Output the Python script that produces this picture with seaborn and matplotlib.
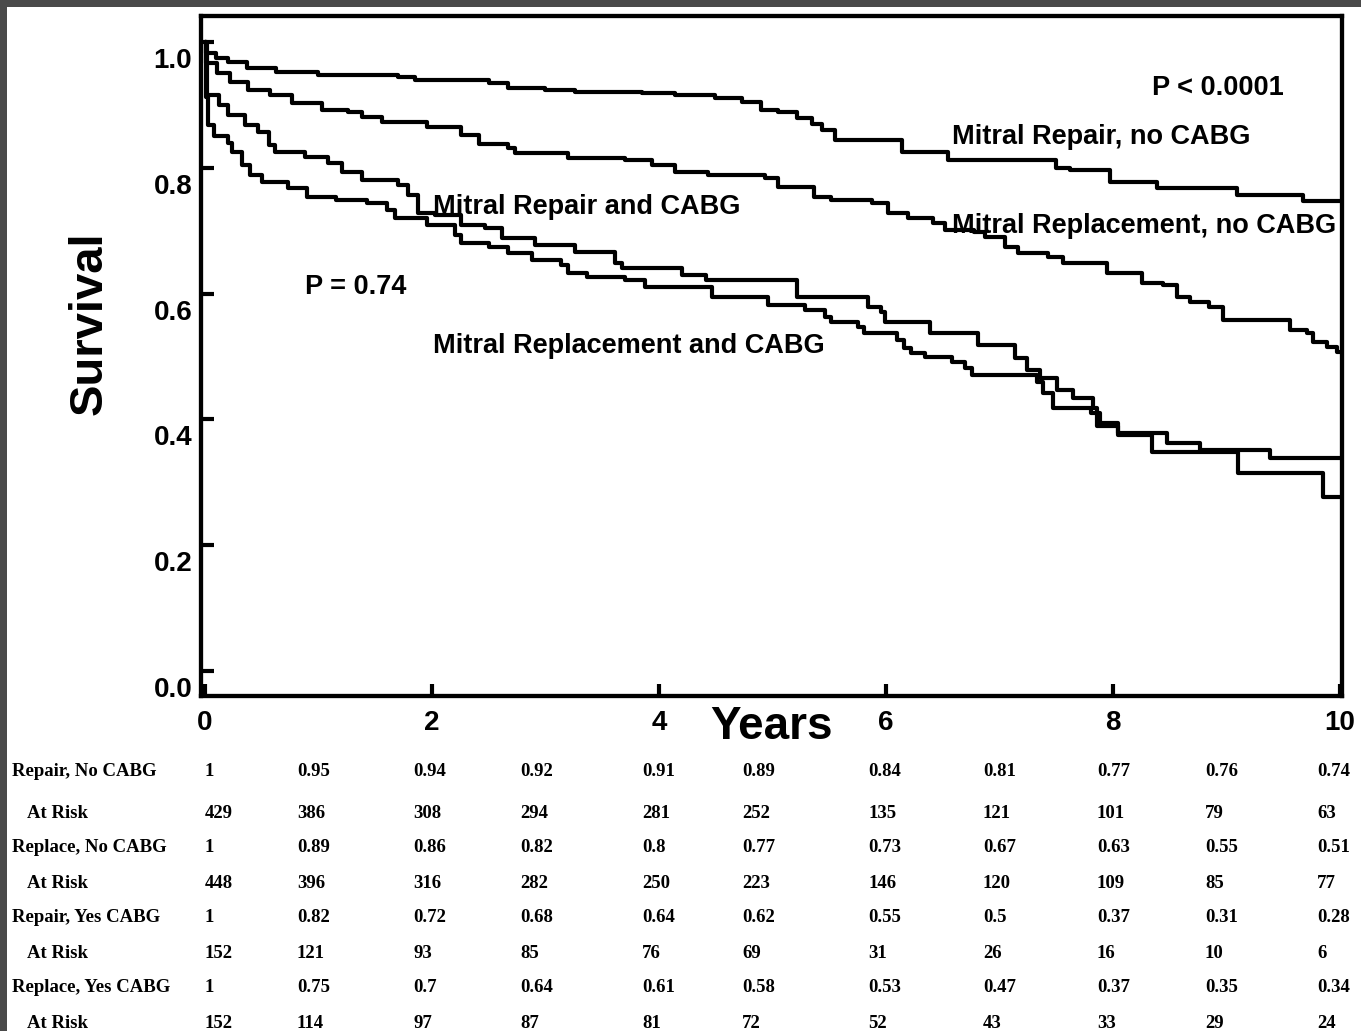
import matplotlib
matplotlib.use("Agg")
import matplotlib.pyplot as plt
import pandas as pd
import seaborn as sns
from matplotlib.patches import Rectangle
from matplotlib.transforms import ScaledTranslation

# ---- Kaplan-Meier step curves: (years, survival) ----
repair_no_cabg_years = [0, 0.01, 0.1, 0.2, 0.37, 0.63, 1.0, 1.7, 1.85, 2.5, 2.67, 3.0, 3.26, 3.85,
                        4.14, 4.49, 4.73, 4.9, 5.05, 5.22, 5.35, 5.44, 5.55, 6.14, 6.55, 7.5, 7.62,
                        7.97, 8.39, 9.09, 9.67, 10.0]
repair_no_cabg_surv = [1.0, 0.982, 0.975, 0.968, 0.959, 0.952, 0.948, 0.944, 0.94, 0.935, 0.927, 0.924,
                       0.92, 0.919, 0.916, 0.911, 0.905, 0.892, 0.888, 0.879, 0.87, 0.86, 0.844, 0.825,
                       0.812, 0.80, 0.797, 0.777, 0.768, 0.757, 0.747, 0.747]

replace_no_cabg_years = [0, 0.01, 0.11, 0.22, 0.38, 0.57, 0.77, 1.03, 1.26, 1.38, 1.56, 1.96, 2.26,
                         2.41, 2.67, 2.73, 3.2, 3.7, 3.94, 4.14, 4.43, 4.93, 5.05, 5.37, 5.52, 5.88,
                         6.02, 6.19, 6.41, 6.52, 6.78, 6.87, 7.05, 7.16, 7.43, 7.56, 7.95, 8.26, 8.44,
                         8.56, 8.68, 8.85, 8.97, 9.56, 9.71, 9.76, 9.89, 9.97, 10.0]
replace_no_cabg_surv = [1.0, 0.967, 0.951, 0.936, 0.924, 0.916, 0.903, 0.892, 0.888, 0.881, 0.873,
                        0.865, 0.852, 0.838, 0.831, 0.823, 0.816, 0.812, 0.804, 0.793, 0.789, 0.784,
                        0.77, 0.754, 0.749, 0.744, 0.728, 0.72, 0.712, 0.701, 0.698, 0.69, 0.674,
                        0.665, 0.658, 0.649, 0.633, 0.617, 0.614, 0.595, 0.587, 0.579, 0.558, 0.542,
                        0.537, 0.523, 0.515, 0.507, 0.507]

repair_cabg_years = [0, 0.02, 0.12, 0.2, 0.35, 0.47, 0.56, 0.62, 0.88, 1.08, 1.21, 1.38, 1.7, 1.79,
                     1.88, 2.03, 2.26, 2.47, 2.62, 2.91, 3.26, 3.61, 3.67, 4.2, 4.41, 5.22, 5.84,
                     5.96, 5.99, 6.39, 6.81, 7.14, 7.24, 7.36, 7.51, 7.65, 7.82, 7.86, 8.04, 8.34,
                     9.1, 9.85, 10.0]
repair_cabg_surv = [1.0, 0.916, 0.9, 0.884, 0.868, 0.857, 0.836, 0.825, 0.817, 0.808, 0.793, 0.781,
                    0.773, 0.757, 0.728, 0.725, 0.709, 0.704, 0.688, 0.677, 0.666, 0.649, 0.641,
                    0.63, 0.622, 0.595, 0.579, 0.571, 0.555, 0.537, 0.518, 0.498, 0.478, 0.466,
                    0.447, 0.434, 0.418, 0.39, 0.375, 0.348, 0.315, 0.277, 0.277]

replace_cabg_years = [0, 0.005, 0.03, 0.08, 0.2, 0.24, 0.33, 0.4, 0.5, 0.73, 0.9, 1.15, 1.43, 1.6,
                      1.67, 1.96, 2.2, 2.26, 2.5, 2.67, 2.88, 3.14, 3.2, 3.37, 3.7, 3.88, 4.47,
                      4.96, 5.29, 5.46, 5.52, 5.75, 5.81, 6.1, 6.16, 6.22, 6.34, 6.58, 6.7, 6.76,
                      7.33, 7.38, 7.47, 7.81, 7.89, 8.04, 8.48, 8.77, 9.38, 10.0]
replace_cabg_surv = [1.0, 0.913, 0.868, 0.85, 0.839, 0.825, 0.804, 0.789, 0.777, 0.768, 0.754,
                     0.749, 0.744, 0.733, 0.72, 0.709, 0.693, 0.68, 0.674, 0.665, 0.653, 0.645,
                     0.633, 0.626, 0.622, 0.611, 0.595, 0.582, 0.574, 0.563, 0.555, 0.547, 0.537,
                     0.526, 0.513, 0.506, 0.499, 0.491, 0.482, 0.471, 0.46, 0.442, 0.418, 0.41,
                     0.395, 0.378, 0.362, 0.351, 0.339, 0.339]

# ---- axis ticks ----
x_ticks = [0, 2, 4, 6, 8, 10]
x_tick_labels = ["0", "2", "4", "6", "8", "10"]
y_ticks = [0.0, 0.2, 0.4, 0.6, 0.8, 1.0]
y_tick_labels = ["0.0", "0.2", "0.4", "0.6", "0.8", "1.0"]

# ---- life table under the chart ----
table_row_labels = ["Repair, No CABG", "At Risk", "Replace, No CABG", "At Risk",
                    "Repair, Yes CABG", "At Risk", "Replace, Yes CABG", "At Risk"]
repair_no_cabg_table = [1, 0.95, 0.94, 0.92, 0.91, 0.89, 0.84, 0.81, 0.77, 0.76, 0.74]
repair_no_cabg_risk = [429, 386, 308, 294, 281, 252, 135, 121, 101, 79, 63]
replace_no_cabg_table = [1, 0.89, 0.86, 0.82, 0.8, 0.77, 0.73, 0.67, 0.63, 0.55, 0.51]
replace_no_cabg_risk = [448, 396, 316, 282, 250, 223, 146, 120, 109, 85, 77]
repair_cabg_table = [1, 0.82, 0.72, 0.68, 0.64, 0.62, 0.55, 0.5, 0.37, 0.31, 0.28]
repair_cabg_risk = [152, 121, 93, 85, 76, 69, 31, 26, 16, 10, 6]
replace_cabg_table = [1, 0.75, 0.7, 0.64, 0.61, 0.58, 0.53, 0.47, 0.37, 0.35, 0.34]
replace_cabg_risk = [152, 114, 97, 87, 81, 72, 52, 43, 33, 29, 24]

# ---- layout (pixels on a 1361 x 1031 canvas) ----
W, H = 1361, 1031
col_left_px = [205, 297, 413, 520, 642, 742, 868, 983, 1097, 1205, 1317]
row_center_px = [771, 813, 848, 884, 918, 953, 988, 1023]
row_label_left_px = [12, 27, 12, 27, 12, 27, 12, 27]

sns.set_theme(style="white")
plt.rcParams["font.family"] = ["Liberation Sans", "DejaVu Sans"]
plt.rcParams["font.weight"] = "bold"

fig = plt.figure(figsize=(W / 100, H / 100), dpi=100, facecolor="white")
ax = fig.add_axes([200.5 / W, 1 - 696 / H, (1342 - 200.5) / W, (696 - 16) / H])
ax.set_facecolor("white")

groups = [
    ("Mitral Repair, no CABG", repair_no_cabg_years, repair_no_cabg_surv),
    ("Mitral Replacement, no CABG", replace_no_cabg_years, replace_no_cabg_surv),
    ("Mitral Repair and CABG", repair_cabg_years, repair_cabg_surv),
    ("Mitral Replacement and CABG", replace_cabg_years, replace_cabg_surv),
]
frames = [pd.DataFrame({"years": t, "survival": s, "group": g}) for g, t, s in groups]
df = pd.concat(frames, ignore_index=True)

sns.lineplot(data=df, x="years", y="survival", hue="group", units="group",
             estimator=None, sort=False, drawstyle="steps-post",
             palette={g: "black" for g, _, _ in groups}, linewidth=3.0,
             legend=False, ax=ax)

ax.set_xlim(-0.0396, 10.018)
ax.set_ylim(-0.0397, 1.0413)

for side in ["left", "right", "top", "bottom"]:
    ax.spines[side].set_visible(True)
    ax.spines[side].set_color("black")
    ax.spines[side].set_linewidth(3.1)

ax.set_xticks(x_ticks)
ax.set_xticklabels(x_tick_labels)
ax.set_yticks(y_ticks)
ax.set_yticklabels(y_tick_labels)
ax.tick_params(axis="both", direction="in", length=9, width=3, color="black",
               labelsize=20, labelcolor="black")
ax.tick_params(axis="x", pad=10, bottom=True, top=False)
ax.tick_params(axis="y", pad=6, left=True, right=False)
shift_down = ScaledTranslation(0, -0.06, fig.dpi_scale_trans)
for lbl in ax.get_yticklabels():
    lbl.set_va("top")
    lbl.set_fontweight("bold")
    lbl.set_transform(lbl.get_transform() + shift_down)
for lbl in ax.get_xticklabels():
    lbl.set_fontweight("bold")

ax.set_xlabel("Years", fontsize=33, fontweight="bold", color="black")
ax.xaxis.set_label_coords(0.5, -0.013)
ax.xaxis.label.set_va("top")
ax.set_ylabel("Survival", fontsize=34, fontweight="bold", color="black")
ax.yaxis.set_label_coords(-0.097, 0.5485)
ax.yaxis.label.set_va("center")

# curve labels and p-values
note_kw = dict(fontsize=19.5, fontweight="bold", color="black", ha="left", va="baseline")
ax.text(8.34, 0.916, "P < 0.0001", **note_kw)
ax.text(6.58, 0.838, "Mitral Repair, no CABG", **note_kw)
ax.text(6.58, 0.696, "Mitral Replacement, no CABG", **note_kw)
ax.text(2.01, 0.727, "Mitral Repair and CABG", **note_kw)
ax.text(0.88, 0.599, "P = 0.74", **note_kw)
ax.text(2.01, 0.506, "Mitral Replacement and CABG", **note_kw)

# life table
table_rows = [repair_no_cabg_table, repair_no_cabg_risk, replace_no_cabg_table, replace_no_cabg_risk,
              repair_cabg_table, repair_cabg_risk, replace_cabg_table, replace_cabg_risk]
tbl_kw = dict(fontsize=13.5, fontweight="bold", color="black", va="center", ha="left",
              family=["Liberation Serif", "DejaVu Serif"])
for label, values, yc, xl in zip(table_row_labels, table_rows, row_center_px, row_label_left_px):
    fig.text(xl / W, 1 - yc / H, label, **tbl_kw)
    for v, xc in zip(values, col_left_px):
        fig.text(xc / W, 1 - yc / H, f"{v:g}", **tbl_kw)

# dark frame along the top and left edges
fig.patches.append(Rectangle((0, 1 - 7 / H), 1, 7 / H, transform=fig.transFigure,
                             facecolor="#4a4a4a", edgecolor="none", zorder=10))
fig.patches.append(Rectangle((0, 0), 7 / W, 1, transform=fig.transFigure,
                             facecolor="#4a4a4a", edgecolor="none", zorder=10))

fig.savefig("out.png", dpi=100, facecolor="white")
